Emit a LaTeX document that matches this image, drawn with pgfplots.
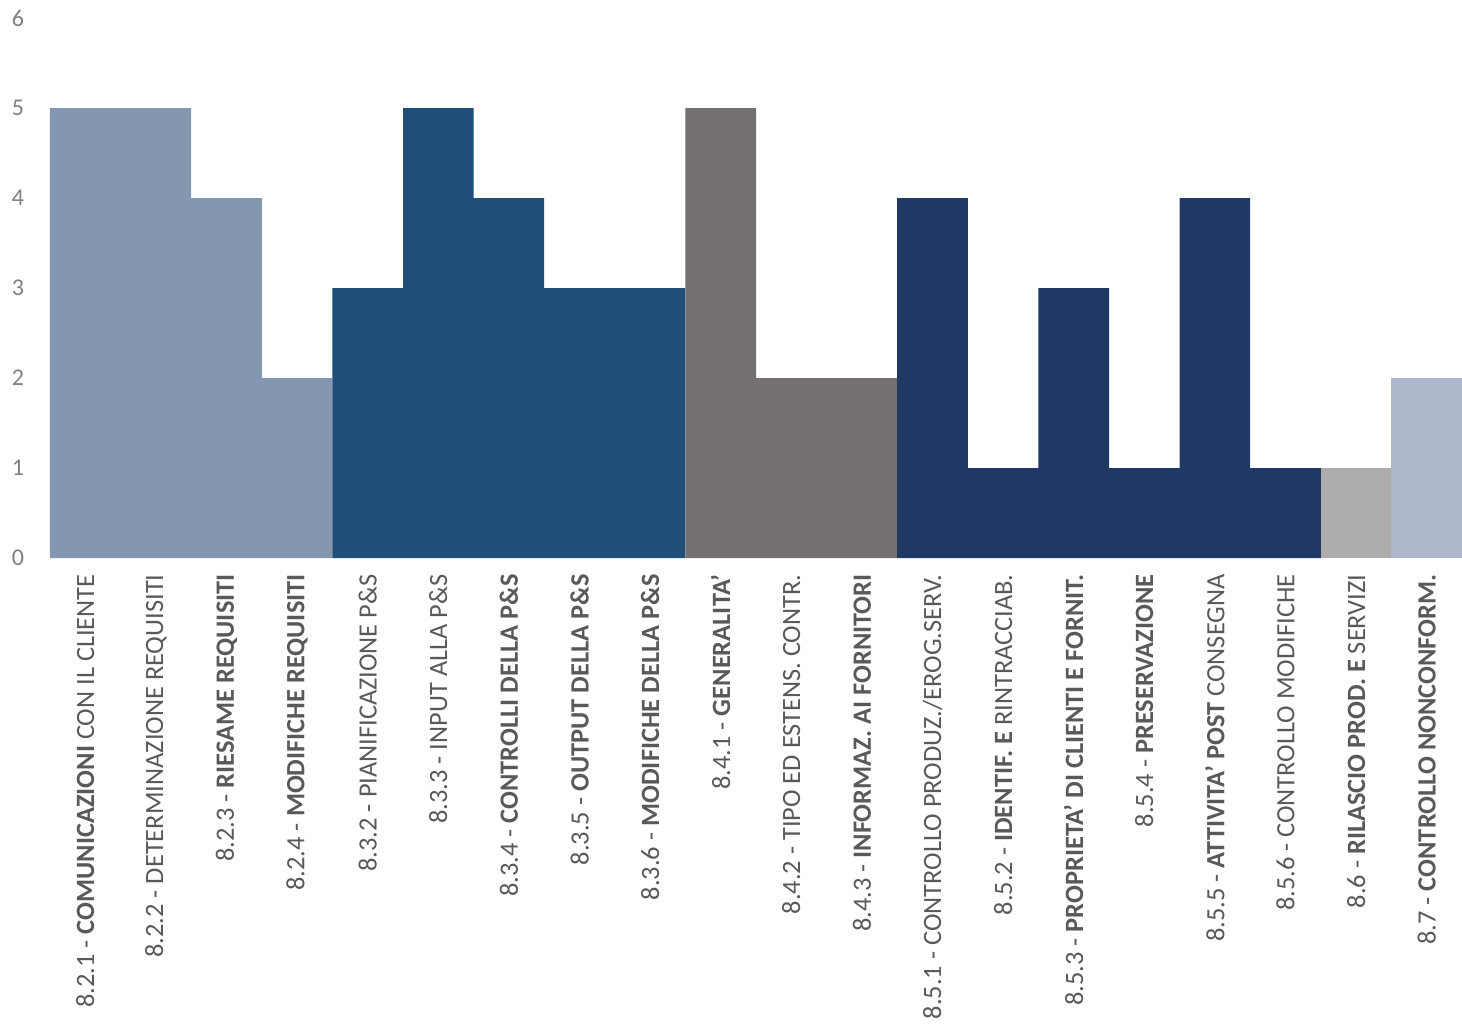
\documentclass[border=0pt]{standalone}
\usepackage{fontspec}
\setmainfont{Carlito}
\usepackage{pgfplots}
\pgfplotsset{compat=1.18}
\definecolor{grpA}{HTML}{8497B0}
\definecolor{grpB}{HTML}{1F4E79}
\definecolor{grpC}{HTML}{757070}
\definecolor{grpD}{HTML}{203864}
\definecolor{grpE}{HTML}{AEABAB}
\definecolor{grpF}{HTML}{ADB9CA}
\definecolor{labgray}{HTML}{595959}
\definecolor{tickgray}{HTML}{808080}
\begin{document}
\begin{tikzpicture}
\begin{axis}[
  scale only axis, width=706pt, height=270pt,
  xmin=-0.5, xmax=19.5, ymin=0, ymax=6,
  axis line style={draw=none},
  major tick length=0pt,
  ytick={0,1,...,6},
  xtick={0,1,...,19},
  xticklabels={
    {8.2.1 - \textbf{COMUNICAZIONI} CON IL CLIENTE},
    {8.2.2 - DETERMINAZIONE REQUISITI},
    {8.2.3 - \textbf{RIESAME REQUISITI}},
    {8.2.4 - \textbf{MODIFICHE REQUISITI}},
    {8.3.2 - PIANIFICAZIONE P\&S},
    {8.3.3 - INPUT ALLA P\&S},
    {8.3.4 - \textbf{CONTROLLI DELLA P\&S}},
    {8.3.5 - \textbf{OUTPUT DELLA P\&S}},
    {8.3.6 - \textbf{MODIFICHE DELLA P\&S}},
    {8.4.1 - \textbf{GENERALITA'}},
    {8.4.2 - TIPO ED ESTENS. CONTR.},
    {8.4.3 - \textbf{INFORMAZ. AI FORNITORI}},
    {8.5.1 - CONTROLLO PRODUZ./EROG.SERV.},
    {8.5.2 - \textbf{IDENTIF. E} RINTRACCIAB.},
    {8.5.3 - \textbf{PROPRIETA' DI CLIENTI E FORNIT.}},
    {8.5.4 - \textbf{PRESERVAZIONE}},
    {8.5.5 - \textbf{ATTIVITA' POST} CONSEGNA},
    {8.5.6 - CONTROLLO MODIFICHE},
    {8.6 - \textbf{RILASCIO PROD. E} SERVIZI},
    {8.7 - \textbf{CONTROLLO NONCONFORM.}}
  },
  xticklabel style={rotate=90, anchor=east, inner xsep=8pt,
    font=\fontsize{13.2}{15}\selectfont, text=labgray},
  yticklabel style={anchor=center, xshift=-16pt,
    font=\fontsize{12}{14}\selectfont, text=tickgray},
  /pgf/number format/assume math mode=true,
  every axis plot/.append style={ybar, bar width=1, bar shift=0pt, draw=none},
]
% 8.2 - requisiti
\addplot[fill=grpA] coordinates {(0,5) (1,5) (2,4) (3,2)};
% 8.3 - progettazione e sviluppo
\addplot[fill=grpB] coordinates {(4,3) (5,5) (6,4) (7,3) (8,3)};
% 8.4 - fornitori
\addplot[fill=grpC] coordinates {(9,5) (10,2) (11,2)};
% 8.5 - produzione ed erogazione
\addplot[fill=grpD] coordinates {(12,4) (13,1) (14,3) (15,1) (16,4) (17,1)};
% 8.6 - rilascio
\addplot[fill=grpE] coordinates {(18,1)};
% 8.7 - non conformita'
\addplot[fill=grpF] coordinates {(19,2)};
\coordinate (bl) at (rel axis cs:0,0);
\coordinate (tr) at (rel axis cs:1,1);
\end{axis}
\pgfresetboundingbox
\path[use as bounding box] ([xshift=-25pt,yshift=-235.5pt]bl) rectangle ([yshift=9pt]tr);
\end{tikzpicture}
\end{document}
